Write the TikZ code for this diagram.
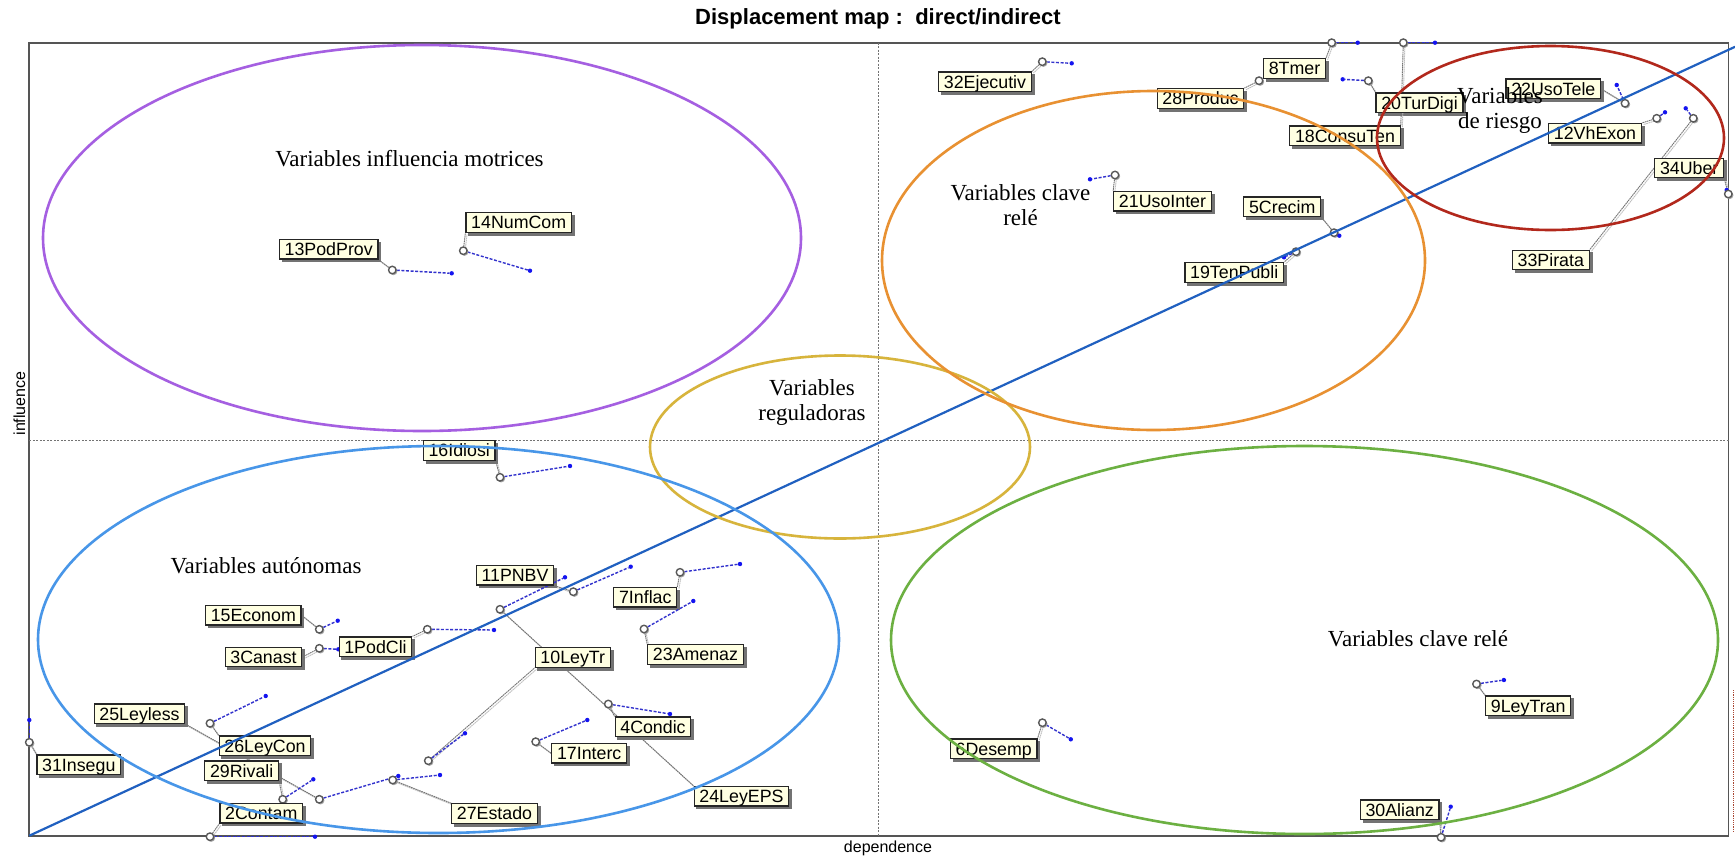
\documentclass[tikz,border=0pt]{standalone}
\usepackage{fontspec}
\setmainfont{Liberation Serif}
\newfontfamily\plotsans{Liberation Sans}

\definecolor{labelfill}{RGB}{255,255,226}
\definecolor{framegray}{RGB}{85,85,85}
\definecolor{diagblue}{RGB}{32,96,192}
\definecolor{moveblue}{RGB}{50,50,205}
\definecolor{dotblue}{RGB}{20,20,240}
\definecolor{zonepurple}{RGB}{165,95,225}
\definecolor{zoneyellow}{RGB}{215,180,60}
\definecolor{zoneorange}{RGB}{232,145,50}
\definecolor{zonered}{RGB}{178,40,28}
\definecolor{zoneblue}{RGB}{72,150,232}
\definecolor{zonegreen}{RGB}{108,176,66}
\definecolor{edgered}{RGB}{170,70,50}

\pgfdeclarelayer{back}
\pgfdeclarelayer{front}
\pgfsetlayers{back,main,front}

\begin{document}
\begin{tikzpicture}[x=1pt,y=-1pt,
  varlabel/.style={draw=black!85, line width=1.2pt, fill=labelfill,
    font=\plotsans\fontsize{17.8}{19}\selectfont, inner xsep=5.2pt, inner ysep=0pt,
    text height=12.7pt, text depth=0pt, minimum height=19.5pt},
  labelshadow/.style={fill=black!55},
  posmark/.style={circle, draw=black!65, line width=1.4pt, fill=white,
    minimum size=7.5pt, inner sep=0pt},
  markshadow/.style={draw=black!35, line width=1.4pt},
  enddot/.style={circle, fill=dotblue, minimum size=4.4pt, inner sep=0pt},
  leader/.style={draw=black!55, line width=0.9pt, dash pattern=on 1.6pt off 0.6pt},
  leadershadow/.style={draw=black!25, line width=0.9pt, dash pattern=on 1.6pt off 0.6pt},
  move/.style={draw=moveblue, line width=1.4pt, dash pattern=on 3pt off 1.6pt},
  zone/.style={line width=2.6pt},
  zonetext/.style={font=\fontsize{23}{25.5}\selectfont, align=center, anchor=base},
  axislabel/.style={font=\plotsans\fontsize{16}{18}\selectfont, anchor=base},
  midline/.style={draw=black!55, line width=0.8pt, dash pattern=on 2pt off 1.5pt},
]
\useasboundingbox (0,0) rectangle (1735,857);

% plot background, frame and quadrant separators
\begin{pgfonlayer}{back}
  \fill[white] (0,0) rectangle (1735,857);
  \draw[framegray, line width=1.8pt] (29.3,42.7) rectangle (1728.5,835.7);
  \draw[midline] (878,42.7) -- (878,835.7);
  \draw[midline] (29.3,440) -- (1728.5,440);
  \draw[edgered, line width=1.2pt, densely dotted] (1733.5,690) -- (1733.5,833);
\end{pgfonlayer}

% variables: id / label / label centre / position / displaced position / leader anchor
\foreach \id/\txt/\lx/\ly/\mx/\my/\bx/\by/\anc in {
  13/13PodProv/328.7/249.3/392.3/270/451.7/273.3/south east,
  14/14NumCom/518.7/222.5/463.3/250.7/530/270.7/south west,
  32/32Ejecutiv/985/81.8/1042.3/61.7/1071.7/63.3/north east,
  8/8Tmer/1294.5/68.5/1331.7/42.7/1357.7/42.7/north east,
  28/28Produc/1200.5/98.5/1259/80.7/1259/80.7/north east,
  20/20TurDigi/1419.5/102.8/1368.3/80.7/1342.7/79.3/north west,
  18/18ConsuTen/1345/135.8/1403.3/42.7/1435/42.7/north east,
  22/22UsoTele/1553.3/88.8/1625/103.3/1616.7/85/east,
  12/12VhExon/1595/133.3/1656.7/118.3/1665/112.3/north east,
  34/34Uber/1689.2/168/1728.3/194/1726.7/190/south east,
  33/33Pirata/1550.8/260/1693.3/118.3/1685.7/108.3/north east,
  21/21UsoInter/1162.5/201.3/1115/175/1090/179.3/north west,
  5/5Crecim/1282.2/206.7/1334/232.7/1339.3/235.7/south east,
  19/19TenPubli/1234.2/272.5/1296/251.7/1284/257.3/north east,
  16/16Idiosi/459.2/450.5/500/477.3/570/466/south east,
  15/15Econom/253.3/615.3/319.3/629.3/337.7/620.7/east,
  3/3Canast/263.5/657/319.3/648.3/338.3/649.3/east,
  1/1PodCli/375.5/646.7/427.3/629.3/494/630/north east,
  11/11PNBV/515/575.3/573.3/591.7/630.7/566.7/south east,
  24/24LeyEPS/741.5/796.3/500/609.3/565/577.3/north west,
  10/10LeyTr/572.8/657.5/428.3/760.7/465/733.3/south west,
  7/7Inflac/645.3/597.2/680/572.3/740/564/north east,
  23/23Amenaz/695.5/654.5/644/629/693.3/601/north west,
  4/4Condic/653/726.7/608.3/704/670/714/north west,
  17/17Interc/589.2/753.3/535.7/741.7/587.3/720/west,
  27/27Estado/494.5/813.5/392.7/780/440/775/north west,
  31/31Insegu/78.8/764.7/29.3/742.3/29.3/720/north west,
  25/25Leyless/139.5/713.7/319.3/799.3/398.3/776/south east,
  26/26LeyCon/265/745.8/210/723.3/265.7/696/north west,
  29/29Rivali/241.7/770.8/282.7/799.3/313.3/779.3/south east,
  2/2Contam/261.3/813.3/210/836.7/315/836.7/south west,
  6/6Desemp/993.7/748.8/1042.4/722.7/1070.8/739.3/north east,
  9/9LeyTran/1528.2/705.8/1476.5/684/1503.9/680/north west,
  30/30Alianz/1399.7/809.7/1441/837.3/1450.7/806.7/south east}{
  \node[enddot] (d\id) at (\bx,\by) {};
  \node[posmark] (o\id) at (\mx,\my) {};
  \node[varlabel] (l\id) at (\lx,\ly) {\txt};
  \begin{pgfonlayer}{back}
    \draw[leadershadow] ([shift={(1.6,1.6)}]o\id.center) -- ([shift={(1.6,1.6)}]l\id.\anc);
    \draw[leader] (o\id) -- (l\id.\anc);
    \draw[move] (o\id) -- (d\id);
    \draw[markshadow] ([shift={(1.2,1.2)}]o\id.center) circle [radius=3.2];
    \fill[labelshadow] ([shift={(2.8,2.8)}]l\id.north west) rectangle ([shift={(2.8,2.8)}]l\id.south east);
  \end{pgfonlayer}
}

\begin{pgfonlayer}{front}
  % diagonal
  \draw[diagblue, line width=2.2pt] (29.3,835.7) -- (1735,46.8);
  % zones
  \draw[zone, zonepurple] (422,238) ellipse [x radius=379pt, y radius=193pt];
  \draw[zone, zoneyellow] (840,447) ellipse [x radius=190pt, y radius=91.5pt];
  \draw[zone, zoneorange] (1153.5,260.5) ellipse [x radius=271.5pt, y radius=169.5pt];
  \draw[zone, zonered] (1550.5,138) ellipse [x radius=173.5pt, y radius=92pt];
  \draw[zone, zoneblue] (438.5,639.5) ellipse [x radius=400.5pt, y radius=193.5pt];
  \draw[zone, zonegreen] (1304.5,640) ellipse [x radius=413.5pt, y radius=194pt];
  \node[zonetext] (zmot) at (409.5,166) {Variables influencia motrices};
  \node[zonetext] (zreg) at (812,420.5) {Variables\\reguladoras};
  \node[zonetext] (zkeya) at (1020.5,225.5) {Variables clave\\relé};
  \node[zonetext] (zrisk) at (1500,128.8) {Variables\\de riesgo};
  \node[zonetext] (zaut) at (266,573.3) {Variables autónomas};
  \node[zonetext] (zkeyb) at (1418,646) {Variables clave relé};
\end{pgfonlayer}

% title and axes
\node[font=\plotsans\bfseries\fontsize{22}{24}\selectfont, anchor=base] (title)
  at (878,24) {Displacement map :\ \ direct/indirect};
\node[axislabel] (xlab) at (888,852) {dependence};
\node[axislabel, rotate=90] (ylab) at (25,403.5) {influence};
\end{tikzpicture}
\end{document}
